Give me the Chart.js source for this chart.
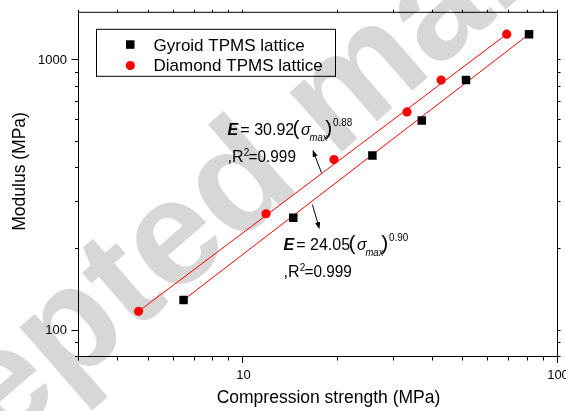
<!DOCTYPE html>
<html>
<head>
<meta charset="utf-8">
<script src="https://cdn.jsdelivr.net/npm/chart.js@4.4.1/dist/chart.umd.min.js"></script>
<style>
  html, body { margin: 0; padding: 0; background: #fff; }
  #wrap { width: 566px; height: 411px; overflow: hidden; position: relative; }
  #wrap canvas { position: absolute; left: 0; top: 0; }
</style>
</head>
<body>
<div id="wrap"><canvas id="modulusChart" width="600" height="411"></canvas></div>
<script>
// compression strength (MPa) vs modulus (MPa)
const gyroidStrength = [6.45, 14.4, 25.7, 36.9, 51.0, 80.9];
const gyroidModulus = [130, 262, 445, 600, 846, 1250];
const diamondStrength = [4.64, 11.8, 19.4, 33.1, 42.5, 68.7];
const diamondModulus = [118, 271, 430, 645, 846, 1250];

// power-law fit lines (end points)
const gyroidFitX = [6.45, 80.9];
const gyroidFitY = [130, 1250];
const diamondFitX = [4.64, 68.7];
const diamondFitY = [118, 1250];

// axes
const xRange = [3, 100];
const yRange = [80, 1500];
const xTickValues = [3, 4, 5, 6, 7, 8, 9, 10, 20, 30, 40, 50, 60, 70, 80, 90, 100];
const yTickValues = [80, 90, 100, 200, 300, 400, 500, 600, 700, 800, 900, 1000];
const xLabelValues = [10, 100];
const yLabelValues = [100, 1000];
const xTitle = 'Compression strength (MPa)';
const yTitle = 'Modulus (MPa)';

// equation notes: anchor in data units, then the text pieces
const gyroidNote = { at: [13.4, 199.8], r2At: [13.4, 158.1], coef: '= 24.05', exp: '0.90', r2: '=0.999' };
const diamondNote = { at: [8.9, 530.5], r2At: [8.9, 421.1], coef: '= 30.92', exp: '0.88', r2: '=0.999' };
const gyroidArrow = { from: [16.57, 292.7], to: [17.45, 237.4] };
const diamondArrow = { from: [17.7, 384], to: [16.6, 466.9] };

const watermark = 'Accepted manuscript';

const FONT = '"Liberation Sans", Arial, sans-serif';
const pairs = (xs, ys) => xs.map((x, i) => ({ x: x, y: ys[i] }));

function textRun(ctx, x, y, text, font, sx) {
  ctx.save();
  ctx.font = font;
  ctx.translate(x, y);
  ctx.scale(sx || 1, 1);
  ctx.fillText(text, 0, 0);
  ctx.restore();
}

function drawNote(ctx, x, y, note, rx, ry) {
  ctx.fillStyle = '#000';
  ctx.textAlign = 'left';
  ctx.textBaseline = 'alphabetic';
  textRun(ctx, x, y, 'E', 'italic bold 16px ' + FONT);
  textRun(ctx, x + 12.8, y, note.coef, '16px ' + FONT);
  textRun(ctx, x + 65, y, '(', '21px ' + FONT);
  textRun(ctx, x + 73.5, y, '\u03c3', 'italic 16px ' + FONT);
  textRun(ctx, x + 82, y + 6, 'max', 'italic 10px ' + FONT, 0.95);
  textRun(ctx, x + 97.8, y, ')', '21px ' + FONT);
  textRun(ctx, x + 105.5, y - 9, note.exp, '11px ' + FONT, 0.9);

  textRun(ctx, rx, ry, ',R', '16px ' + FONT);
  textRun(ctx, rx + 16.3, ry - 6, '2', '10px ' + FONT);
  textRun(ctx, rx + 21, ry, note.r2, '16px ' + FONT, 0.96);
}

function drawArrow(ctx, x0, y0, x1, y1) {
  const ang = Math.atan2(y1 - y0, x1 - x0);
  const len = 7, half = 2.6;
  ctx.strokeStyle = '#000';
  ctx.fillStyle = '#000';
  ctx.lineWidth = 1;
  ctx.beginPath();
  ctx.moveTo(x0, y0);
  ctx.lineTo(x1 - Math.cos(ang) * len * 0.8, y1 - Math.sin(ang) * len * 0.8);
  ctx.stroke();
  ctx.beginPath();
  ctx.moveTo(x1, y1);
  ctx.lineTo(x1 - Math.cos(ang) * len - Math.sin(ang) * half, y1 - Math.sin(ang) * len + Math.cos(ang) * half);
  ctx.lineTo(x1 - Math.cos(ang) * len + Math.sin(ang) * half, y1 - Math.sin(ang) * len - Math.cos(ang) * half);
  ctx.closePath();
  ctx.fill();
}

const decorations = {
  id: 'decorations',
  beforeDraw(chart) {
    const ctx = chart.ctx;
    ctx.save();
    ctx.fillStyle = '#d7d7d7';
    ctx.font = 'bold 150px ' + FONT;
    ctx.textBaseline = 'alphabetic';
    ctx.translate(-207, 629);
    ctx.rotate(-41 * Math.PI / 180);
    ctx.fillText(watermark, 0, 0);
    ctx.restore();
  },
  afterDraw(chart) {
    const { ctx, chartArea: a, scales: { x, y } } = chart;
    ctx.save();

    // frame
    ctx.strokeStyle = '#000';
    ctx.lineWidth = 1;
    ctx.strokeRect(a.left - 0.5, a.top - 0.5, a.right - a.left, a.bottom - a.top);

    // tick marks, out on every side
    ctx.beginPath();
    xTickValues.forEach(v => {
      const px = Math.round(x.getPixelForValue(v)) - 0.5;
      const len = xLabelValues.includes(v) ? 6 : 3.5;
      ctx.moveTo(px, a.bottom - 0.5); ctx.lineTo(px, a.bottom + len);
      ctx.moveTo(px, a.top - 0.5); ctx.lineTo(px, a.top - 3);
    });
    yTickValues.forEach(v => {
      const py = Math.round(y.getPixelForValue(v)) - 0.5;
      const len = yLabelValues.includes(v) ? 7 : 3.5;
      ctx.moveTo(a.left - 0.5, py); ctx.lineTo(a.left - 0.5 - len, py);
      ctx.moveTo(a.right - 0.5, py); ctx.lineTo(a.right + 2.5, py);
    });
    ctx.stroke();

    // axis titles
    ctx.fillStyle = '#000';
    ctx.font = '17.5px ' + FONT;
    ctx.textAlign = 'center';
    ctx.textBaseline = 'middle';
    ctx.fillText(xTitle, (a.left + a.right) / 2 + 10, 398);
    ctx.save();
    ctx.translate(20, (a.top + a.bottom) / 2 - 13.5);
    ctx.rotate(-Math.PI / 2);
    ctx.fillText(yTitle, 0, 0);
    ctx.restore();

    // legend
    const lx = a.left + 18, ly = a.top + 17;
    ctx.strokeRect(lx - 0.5, ly - 0.5, 239, 47);
    const sets = chart.data.datasets;
    ctx.fillStyle = sets[0].backgroundColor;
    ctx.fillRect(lx + 29, ly + 10.5, 8.5, 8.5);
    ctx.fillStyle = sets[1].backgroundColor;
    ctx.beginPath();
    ctx.arc(lx + 33.3, ly + 35.8, 4.6, 0, Math.PI * 2);
    ctx.fill();
    ctx.fillStyle = '#000';
    ctx.font = '17px ' + FONT;
    ctx.textAlign = 'left';
    ctx.textBaseline = 'alphabetic';
    ctx.fillText(sets[0].label, lx + 56.5, ly + 20.8);
    ctx.fillText(sets[1].label, lx + 56.5, ly + 41.5);

    // equations and arrows
    [gyroidNote, diamondNote].forEach(n => {
      drawNote(ctx, x.getPixelForValue(n.at[0]), y.getPixelForValue(n.at[1]),
        n, x.getPixelForValue(n.r2At[0]), y.getPixelForValue(n.r2At[1]));
    });
    [gyroidArrow, diamondArrow].forEach(ar => {
      drawArrow(ctx, x.getPixelForValue(ar.from[0]), y.getPixelForValue(ar.from[1]),
        x.getPixelForValue(ar.to[0]), y.getPixelForValue(ar.to[1]));
    });

    ctx.restore();
  }
};

const ctx = document.getElementById('modulusChart').getContext('2d');
new Chart(ctx, {
  type: 'scatter',
  data: {
    datasets: [
      {
        label: 'Gyroid TPMS lattice',
        data: pairs(gyroidStrength, gyroidModulus),
        pointStyle: 'rect',
        pointRadius: 6,
        backgroundColor: '#000000',
        borderColor: '#000000',
        borderWidth: 0
      },
      {
        label: 'Diamond TPMS lattice',
        data: pairs(diamondStrength, diamondModulus),
        pointStyle: 'circle',
        pointRadius: 4.6,
        backgroundColor: '#ff0000',
        borderColor: '#ff0000',
        borderWidth: 0
      },
      {
        label: 'Gyroid fit',
        data: pairs(gyroidFitX, gyroidFitY),
        showLine: true,
        borderColor: '#ff0000',
        borderWidth: 1,
        pointRadius: 0
      },
      {
        label: 'Diamond fit',
        data: pairs(diamondFitX, diamondFitY),
        showLine: true,
        borderColor: '#ff0000',
        borderWidth: 1,
        pointRadius: 0
      }
    ]
  },
  options: {
    responsive: false,
    animation: false,
    layout: { padding: { top: 7, right: 42, left: 0, bottom: 0 } },
    plugins: {
      legend: { display: false },
      tooltip: { enabled: false }
    },
    scales: {
      x: {
        type: 'logarithmic',
        min: xRange[0],
        max: xRange[1],
        afterBuildTicks: s => { s.ticks = xTickValues.map(v => ({ value: v })); },
        afterFit: s => { s.height = 54; },
        grid: { display: false, drawTicks: true, tickLength: 7 },
        border: { display: false },
        ticks: {
          autoSkip: false,
          maxRotation: 0,
          padding: 4,
          color: '#000',
          font: { family: FONT, size: 13 },
          callback: v => xLabelValues.includes(v) ? String(v) : null
        }
      },
      y: {
        type: 'logarithmic',
        min: yRange[0],
        max: yRange[1],
        afterBuildTicks: s => { s.ticks = yTickValues.concat([yRange[1]]).map(v => ({ value: v })); },
        afterFit: s => { s.width = 79; },
        grid: { display: false, drawTicks: true, tickLength: 7 },
        border: { display: false },
        ticks: {
          autoSkip: false,
          padding: 5,
          color: '#000',
          font: { family: FONT, size: 13 },
          callback: v => yLabelValues.includes(v) ? String(v) : null
        }
      }
    }
  },
  plugins: [decorations]
});
</script>
</body>
</html>
